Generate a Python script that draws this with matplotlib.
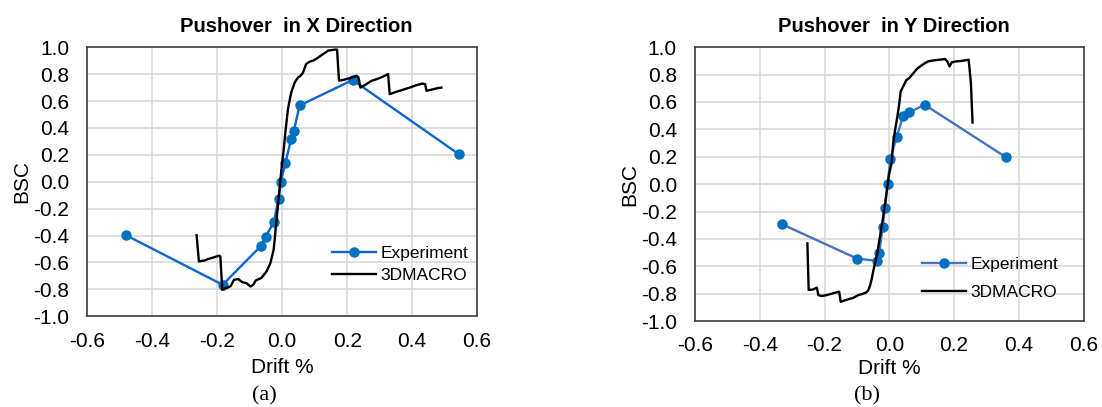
import numpy as np
import matplotlib
matplotlib.use('Agg')
import matplotlib.pyplot as plt

plt.rcParams['font.family'] = ['Liberation Sans', 'DejaVu Sans']
plt.rcParams['axes.unicode_minus'] = False

# Experiment points, X direction (drift %, BSC)
exp_x_drift = [-0.48, -0.183, -0.064, -0.051, -0.025, -0.011, -0.004, 0.010, 0.028, 0.036, 0.054, 0.217, 0.544]
exp_x_bsc = [-0.398, -0.766, -0.475, -0.408, -0.30, -0.125, 0.0, 0.139, 0.32, 0.378, 0.567, 0.756, 0.204]

# 3DMACRO curve, X direction
mac_x_drift = [-0.263, -0.256, -0.238, -0.228, -0.207, -0.194, -0.190, -0.184, -0.177, -0.167, -0.158,
               -0.148, -0.135, -0.122, -0.110, -0.097, -0.089, -0.081, -0.064, -0.048, -0.036, -0.026,
               -0.020, -0.014, -0.008, -0.002, 0.005, 0.011, 0.018, 0.028, 0.039, 0.049, 0.056, 0.064,
               0.074, 0.085, 0.095, 0.105, 0.116, 0.131, 0.142, 0.162, 0.169, 0.175, 0.188, 0.203, 0.216,
               0.229, 0.235, 0.241, 0.254, 0.275, 0.296, 0.311, 0.326, 0.331, 0.352, 0.372, 0.393, 0.413,
               0.432, 0.440, 0.444, 0.459, 0.475, 0.490]
mac_x_bsc = [-0.398, -0.592, -0.585, -0.575, -0.560, -0.550, -0.555, -0.804, -0.792, -0.787, -0.775,
             -0.729, -0.724, -0.747, -0.754, -0.779, -0.766, -0.734, -0.716, -0.667, -0.605, -0.505,
             -0.356, -0.207, -0.057, 0.092, 0.241, 0.39, 0.54, 0.664, 0.739, 0.776, 0.785, 0.81,
             0.875, 0.893, 0.90, 0.913, 0.932, 0.957, 0.975, 0.982, 0.982, 0.751, 0.757, 0.767, 0.775,
             0.788, 0.775, 0.70, 0.718, 0.75, 0.767, 0.782, 0.80, 0.651, 0.669, 0.684, 0.70, 0.718,
             0.73, 0.725, 0.676, 0.684, 0.694, 0.70]

# Experiment points, Y direction
exp_y_drift = [-0.331, -0.099, -0.039, -0.031, -0.0205, -0.0134, -0.005, 0.003, 0.023, 0.043, 0.062, 0.109, 0.36]
exp_y_bsc = [-0.293, -0.544, -0.559, -0.505, -0.31, -0.171, 0.002, 0.183, 0.348, 0.50, 0.524, 0.58, 0.197]

# 3DMACRO curve, Y direction
mac_y_drift = [-0.253, -0.249, -0.234, -0.224, -0.219, -0.209, -0.194, -0.178, -0.163, -0.155, -0.150,
               -0.142, -0.126, -0.111, -0.096, -0.081, -0.071, -0.065, -0.059, -0.054, -0.049, -0.044,
               -0.037, -0.029, -0.022, -0.013, -0.006, 0.0, 0.007, 0.012, 0.018, 0.025, 0.031, 0.035,
               0.043, 0.052, 0.062, 0.075, 0.085, 0.098, 0.111, 0.121, 0.137, 0.157, 0.172, 0.179, 0.186,
               0.193, 0.208, 0.224, 0.234, 0.245, 0.252, 0.257]
mac_y_bsc = [-0.432, -0.773, -0.768, -0.755, -0.81, -0.817, -0.81, -0.80, -0.79, -0.785, -0.859,
             -0.852, -0.84, -0.83, -0.81, -0.80, -0.79, -0.775, -0.737, -0.688, -0.627, -0.578,
             -0.505, -0.383, -0.285, -0.139, -0.017, 0.08, 0.154, 0.30, 0.398, 0.495, 0.592, 0.677,
             0.714, 0.758, 0.776, 0.812, 0.841, 0.865, 0.885, 0.897, 0.904, 0.909, 0.914, 0.897, 0.86,
             0.89, 0.897, 0.90, 0.904, 0.909, 0.739, 0.45]

ticks_x = [-0.6, -0.4, -0.2, 0.0, 0.2, 0.4, 0.6]
ticks_y = [-1.0, -0.8, -0.6, -0.4, -0.2, 0.0, 0.2, 0.4, 0.6, 0.8, 1.0]

fig = plt.figure(figsize=(11.02, 4.07), dpi=100)
ax1 = fig.add_axes([0.0790, 0.223, 0.354, 0.661])
ax2 = fig.add_axes([0.6307, 0.211, 0.3526, 0.673])


def style_axes(ax, title, title_x, xlab_y):
    ax.set_xlim(-0.6, 0.6)
    ax.set_ylim(-1.0, 1.0)
    ax.set_xticks(ticks_x)
    ax.set_yticks(ticks_y)
    ax.set_xticklabels(['%.1f' % v for v in ticks_x])
    ax.set_yticklabels(['%.1f' % v for v in ticks_y])
    ax.tick_params(length=0, labelsize=15)
    ax.tick_params(axis='y', pad=13)
    ax.tick_params(axis='x', pad=11)
    ax.grid(True, color='#d9d9d9', linewidth=1.2)
    ax.set_axisbelow(True)
    for s in ax.spines.values():
        s.set_color('#404040')
        s.set_linewidth(1.2)
    ax.set_title(title, fontsize=14.5, fontweight='bold', x=title_x, pad=11)
    ax.text(-0.167, 0.5, 'BSC', rotation=90, fontsize=15, ha='center', va='center',
            transform=ax.transAxes)
    ax.text(0.5, xlab_y, 'Drift %', fontsize=15, ha='center', va='center',
            transform=ax.transAxes)


# X direction
ax1.plot(exp_x_drift, exp_x_bsc, color='#0a64d2', linewidth=1.7, marker='o',
         markersize=6.5, markerfacecolor='#0070c0', markeredgecolor='#0070c0', label='Experiment')
ax1.plot(mac_x_drift, mac_x_bsc, color='black', linewidth=1.7, label='3DMACRO')
style_axes(ax1, 'Pushover  in X Direction', 0.536, -0.192)
ax1.legend(loc='center left', bbox_to_anchor=(0.629, 0.193), frameon=False, fontsize=12.5,
           borderpad=0, borderaxespad=0, handlelength=2.5, handletextpad=0.25, labelspacing=0.42)

# Y direction
ax2.plot(exp_y_drift, exp_y_bsc, color='#4472c4', linewidth=1.7, marker='o',
         markersize=6.5, markerfacecolor='#0070c0', markeredgecolor='#0070c0', label='Experiment')
ax2.plot(mac_y_drift, mac_y_bsc, color='black', linewidth=1.7, label='3DMACRO')
style_axes(ax2, 'Pushover  in Y Direction', 0.512, -0.172)
ax2.legend(loc='center left', bbox_to_anchor=(0.585, 0.155), frameon=False, fontsize=12.5,
           borderpad=0, borderaxespad=0, handlelength=2.5, handletextpad=0.28, labelspacing=0.72)

# captions
fig.text(264 / 1102, 1 - 396 / 407, '(a)', family=['Liberation Serif', 'DejaVu Serif'],
         fontsize=16, ha='center', va='center')
fig.text(867 / 1102, 1 - 396 / 407, '(b)', family=['Liberation Serif', 'DejaVu Serif'],
         fontsize=16, ha='center', va='center')

plt.savefig('out.png', dpi=100)
